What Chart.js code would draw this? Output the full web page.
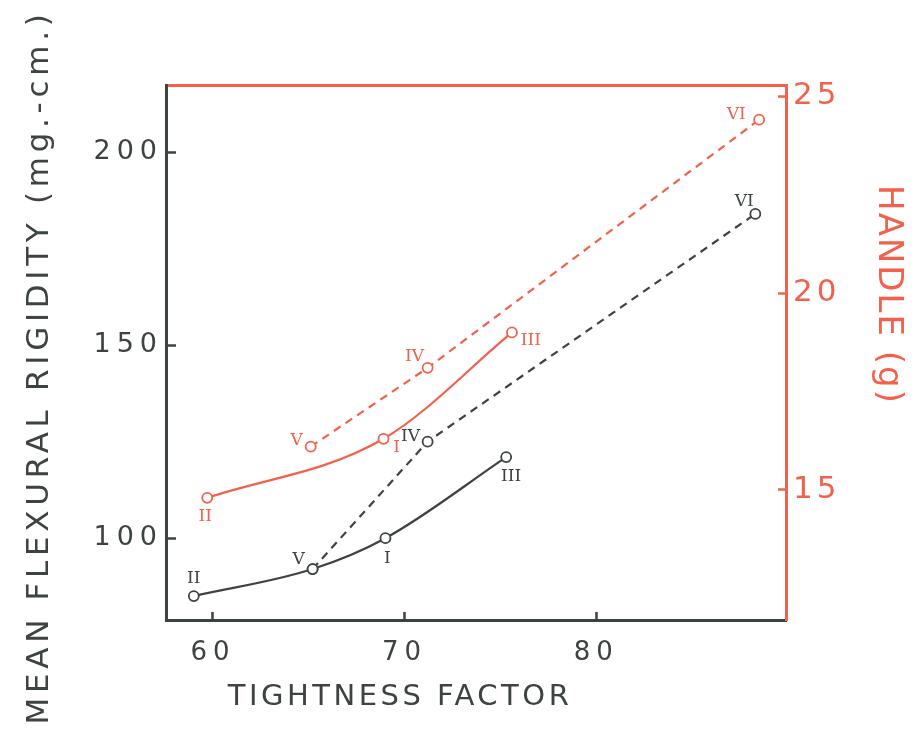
<!DOCTYPE html>
<html>
<head>
<meta charset="utf-8">
<script src="https://cdn.jsdelivr.net/npm/chart.js@4.4.1/dist/chart.umd.min.js"></script>
<style>
  html, body { margin: 0; padding: 0; background: #ffffff; }
  #wrap { width: 921px; height: 731px; }
</style>
</head>
<body>
<div id="wrap"><canvas id="c" width="921" height="731"></canvas></div>
<script>
// ---------------- data ----------------
const samples = ['I', 'II', 'III', 'IV', 'V', 'VI'];
// Mean flexural rigidity (mg.-cm.) vs tightness factor (black, left axis)
const rigidityTightness = [69.0, 59.0, 75.3, 71.2, 65.2, 88.3];
const rigidity          = [100, 85, 121, 125, 92, 184];
// Handle (g) vs tightness factor (red, right axis)
const handleTightness   = [68.9, 59.7, 75.6, 71.2, 65.1, 88.5];
const handle            = [16.3, 14.8, 19.0, 18.1, 16.1, 24.4];
// which samples are joined by the solid curve / the dashed line
const rigiditySolid  = ['II', 'V', 'I', 'III'];
const rigidityDashed = ['V', 'IV', 'VI'];
const handleSolid    = ['II', 'I', 'III'];
const handleDashed   = ['V', 'IV', 'VI'];
// tick labels
const xTicks = [60, 70, 80];
const rigidityTicks = [100, 150, 200];
const handleTicks = [15, 20, 25];
// axis titles
const xTitle = 'TIGHTNESS FACTOR';
const yTitle = 'MEAN FLEXURAL RIGIDITY (mg.-cm.)';
const y2Title = 'HANDLE (g)';

// ---------------- styling ----------------
const BLACK = '#3d4341';
const RED = '#f2614b';
const FONT = "'DejaVu Sans', sans-serif";

function pts(names, xs, ys) {
  return names.map(n => { const i = samples.indexOf(n); return { x: xs[i], y: ys[i] }; });
}

function lineDs(names, xs, ys, color, axis, dashed) {
  return {
    data: pts(names, xs, ys),
    names: names,
    yAxisID: axis,
    borderColor: color,
    backgroundColor: '#ffffff',
    borderWidth: 2.2,
    borderDash: dashed ? [8, 6] : [],
    cubicInterpolationMode: dashed ? 'default' : 'monotone',
    tension: 0,
    pointRadius: 5,
    pointBorderWidth: 1.8,
    pointBorderColor: color,
    pointBackgroundColor: '#ffffff',
    series: axis === 'y' ? 'rigidity' : 'handle',
    fill: false
  };
}

const labelOffsets = {
  rigidity: { II: [0, -17], V: [-14, -9], I: [2, 20], IV: [-17, -5], III: [5, 19], VI: [-11, -12] },
  handle:   { II: [-2, 19], V: [-14, -6], I: [13, 9], IV: [-13, -11], III: [19, 8], VI: [-23, -5] }
};

const numeralPlugin = {
  id: 'numerals',
  afterDatasetsDraw(chart) {
    const ctx = chart.ctx;
    const done = {};
    chart.data.datasets.forEach((ds, di) => {
      const meta = chart.getDatasetMeta(di);
      meta.data.forEach((el, j) => {
        const name = ds.names[j];
        const key = ds.series + name;
        if (done[key]) return;
        done[key] = true;
        const off = labelOffsets[ds.series][name];
        ctx.save();
        ctx.letterSpacing = '0px';
        ctx.font = "17px 'DejaVu Serif', serif";
        ctx.fillStyle = ds.borderColor;
        ctx.textAlign = 'center';
        ctx.textBaseline = 'middle';
        ctx.fillText(name, el.x + off[0], el.y + off[1]);
        ctx.restore();
      });
    });
  }
};

// axis titles, placed where the reference lettering sits
const titlePlugin = {
  id: 'axisTitles',
  afterDraw(chart) {
    const ctx = chart.ctx;
    const items = [
      { text: xTitle, x: 400, y: 697, rot: 0, size: 29, spacing: '3.5px', color: BLACK },
      { text: yTitle, x: 40, y: 367, rot: -Math.PI / 2, size: 31, spacing: '4.7px', color: BLACK },
      { text: y2Title, x: 888, y: 295, rot: Math.PI / 2, size: 34, spacing: '2px', color: RED }
    ];
    items.forEach(t => {
      ctx.save();
      ctx.translate(t.x, t.y);
      ctx.rotate(t.rot);
      ctx.letterSpacing = t.spacing;
      ctx.font = t.size + 'px ' + FONT;
      ctx.fillStyle = t.color;
      ctx.textAlign = 'center';
      ctx.textBaseline = 'middle';
      ctx.fillText(t.text, 0, 0);
      ctx.restore();
    });
  }
};

// wide lettering: per-scale letter spacing for tick labels
const spacingPlugin = {
  id: 'spacing',
  beforeLayout(chart) {
    const cfg = { x: '6px', y: '6px', y2: '4px' };
    Object.keys(cfg).forEach(id => {
      const s = chart.scales[id];
      if (!s || s._spPatched) return;
      const proto = Object.getPrototypeOf(s);
      s.drawLabels = function (ca) {
        const c = this.ctx; c.save(); c.letterSpacing = cfg[id];
        proto.drawLabels.call(this, ca); c.restore();
      };
      s._spPatched = true;
    });
  }
};

const setTicks = arr => scale => { scale.ticks = arr.map(v => ({ value: v })); };

new Chart(document.getElementById('c'), {
  type: 'line',
  data: {
    datasets: [
      lineDs(rigiditySolid, rigidityTightness, rigidity, BLACK, 'y', false),
      lineDs(rigidityDashed, rigidityTightness, rigidity, BLACK, 'y', true),
      lineDs(handleSolid, handleTightness, handle, RED, 'y2', false),
      lineDs(handleDashed, handleTightness, handle, RED, 'y2', true)
    ]
  },
  options: {
    responsive: false,
    animation: false,
    devicePixelRatio: 1,
    layout: { padding: 0 },
    plugins: { legend: { display: false }, tooltip: { enabled: false } },
    scales: {
      x: {
        type: 'linear', position: 'bottom', min: 57.55, max: 89.9,
        afterBuildTicks: setTicks(xTicks),
        afterFit: s => { s.height = 111; },
        grid: { drawOnChartArea: false, drawTicks: true, tickLength: -8, tickWidth: 2.5, tickColor: BLACK },
        border: { display: true, color: BLACK, width: 3 },
        ticks: { color: BLACK, font: { family: FONT, size: 26 }, padding: 26, maxRotation: 0, autoSkip: false },
        title: { display: false }
      },
      x2: {
        type: 'linear', position: 'top', min: 57.55, max: 89.9,
        afterFit: s => { s.height = 85; },
        grid: { drawOnChartArea: false, drawTicks: false },
        border: { display: true, color: RED, width: 3 },
        ticks: { display: false }
      },
      y: {
        type: 'linear', position: 'left', min: 78.8, max: 217.4,
        afterBuildTicks: setTicks(rigidityTicks),
        afterFit: s => { s.width = 166; },
        grid: { drawOnChartArea: false, drawTicks: true, tickLength: -10, tickWidth: 2.5, tickColor: BLACK },
        border: { display: true, color: BLACK, width: 3 },
        ticks: { color: BLACK, font: { family: FONT, size: 27 }, padding: 13 },
        title: { display: false }
      },
      y2: {
        type: 'linear', position: 'right', min: 11.7, max: 25.28,
        afterBuildTicks: setTicks(handleTicks),
        afterFit: s => { s.width = 135; },
        grid: { drawOnChartArea: false, drawTicks: true, tickLength: -8, tickWidth: 2.5, tickColor: RED },
        border: { display: true, color: RED, width: 3 },
        ticks: { color: RED, font: { family: FONT, size: 31 }, padding: 15 },
        title: { display: false }
      }
    }
  },
  plugins: [spacingPlugin, numeralPlugin, titlePlugin]
});
</script>
</body>
</html>
